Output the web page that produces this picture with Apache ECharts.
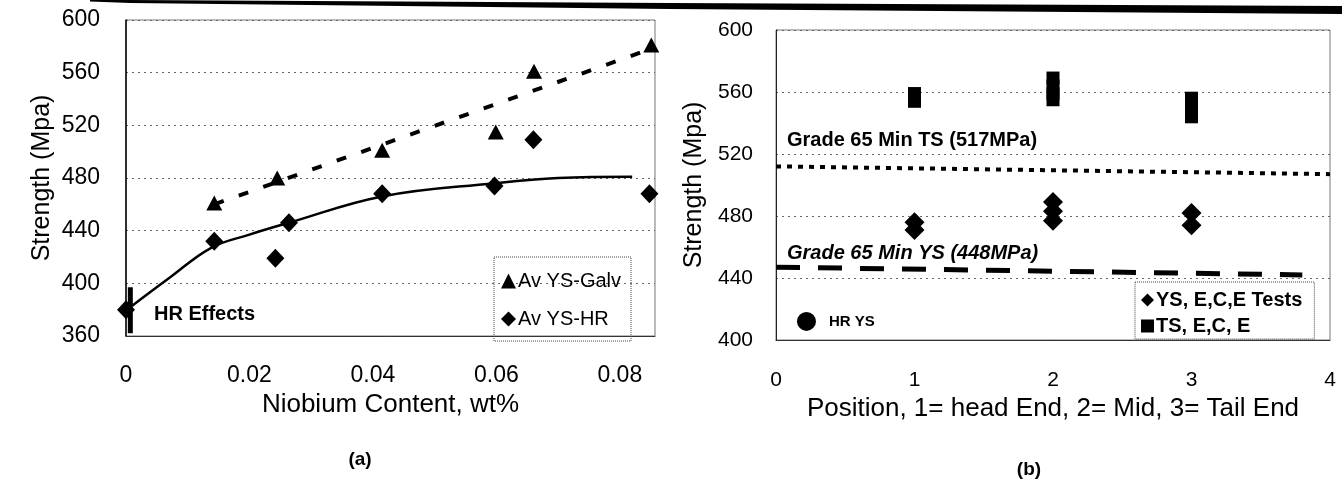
<!DOCTYPE html>
<html>
<head>
<meta charset="utf-8">
<script src="https://cdn.jsdelivr.net/npm/echarts@6/dist/echarts.min.js"></script>
<style>
html,body{margin:0;padding:0;background:#fff;}
#chart{width:1342px;height:486px;}
</style>
</head>
<body>
<div id="chart"></div>
<script>
// ---- Panel (a) data ----
const nbGalv = [0.0143, 0.0245, 0.0415, 0.0599, 0.0661, 0.0851];
const ysGalv = [461, 480, 501, 515, 561, 581];
const nbHR = [0, 0.0143, 0.0242, 0.0264, 0.0415, 0.0597, 0.066, 0.0848];
const ysHR = [380, 432, 419, 446, 468, 474, 509, 468];
const galvTrendX = [0.0143, 0.085];
const galvTrendY = [460, 578];
const hrTrendX = [0.001, 0.007, 0.0138, 0.02, 0.0264, 0.0415, 0.0597, 0.07, 0.082];
const hrTrendY = [383, 404, 427, 437, 446, 466, 476, 480, 481];
const hrBarX = [0.0007, 0.0007];
const hrBarY = [362, 397];

// ---- Panel (b) data ----
const posYS = [1, 1, 2, 2, 2, 3, 3];
const valYS = [471, 476, 477, 483, 489, 474, 482];
const posTS = [1, 1, 1, 2, 2, 2, 2, 3, 3, 3, 3];
const valTS = [554, 557, 559, 555, 559, 564, 569, 544, 548, 552, 556];
const tsMinX = [0, 4];
const tsMinY = [512, 507];
const ysMinX = [0, 3.8];
const ysMinY = [447, 442];
const hrYSX = [0.22];
const hrYSY = [412];

const zip = (a, b) => a.map((v, i) => [v, b[i]]);
const FONT = '"Liberation Sans", Arial, sans-serif';

const chart = echarts.init(document.getElementById('chart'), null, {renderer: 'canvas'});

const gridLine = {show: true, lineStyle: {color: '#666', width: 1, type: [2, 4]}};
const black = {color: '#000', opacity: 1};

const option = {
  backgroundColor: '#fff',
  animation: false,
  textStyle: {fontFamily: FONT, color: '#000'},
  grid: [
    {left: 126, top: 20, width: 529, height: 316, show: true, borderColor: '#777', borderWidth: 1, backgroundColor: 'transparent'},
    {left: 776, top: 30, width: 554, height: 310, show: true, borderColor: '#777', borderWidth: 1, backgroundColor: 'transparent'}
  ],
  xAxis: [
    {
      gridIndex: 0, type: 'value', min: 0, max: 0.0857, interval: 0.02,
      name: 'Niobium Content, wt%', nameLocation: 'middle', nameGap: 49,
      nameTextStyle: {fontSize: 26, color: '#000', fontFamily: FONT},
      axisLine: {show: true, lineStyle: {color: '#333', width: 1}},
      axisTick: {show: false},
      axisLabel: {fontSize: 23, color: '#000', margin: 28, showMaxLabel: false, fontFamily: FONT,
        formatter: v => (v === 0 ? '0' : String(Math.round(v * 100) / 100))},
      splitLine: {show: false}
    },
    {
      gridIndex: 1, type: 'value', min: 0, max: 4, interval: 1,
      name: 'Position, 1= head End, 2= Mid, 3= Tail End', nameLocation: 'middle', nameGap: 54,
      nameTextStyle: {fontSize: 26, color: '#000', fontFamily: FONT},
      axisLine: {show: true, lineStyle: {color: '#333', width: 1}},
      axisTick: {show: false},
      axisLabel: {fontSize: 21, color: '#000', margin: 30, fontFamily: FONT},
      splitLine: {show: false}
    }
  ],
  yAxis: [
    {
      gridIndex: 0, type: 'value', min: 360, max: 600, interval: 40,
      name: 'Strength (Mpa)', nameLocation: 'middle', nameGap: 71, nameRotate: 90,
      nameTextStyle: {fontSize: 25, color: '#000', fontFamily: FONT},
      axisLine: {show: true, lineStyle: {color: '#000', width: 1.5}},
      axisTick: {show: false},
      axisLabel: {fontSize: 23, color: '#000', margin: 26, fontFamily: FONT},
      splitLine: gridLine
    },
    {
      gridIndex: 1, type: 'value', min: 400, max: 600, interval: 40,
      name: 'Strength (Mpa)', nameLocation: 'middle', nameGap: 69, nameRotate: 90,
      nameTextStyle: {fontSize: 25, color: '#000', fontFamily: FONT},
      axisLine: {show: true, lineStyle: {color: '#222', width: 1}},
      axisTick: {show: false},
      axisLabel: {fontSize: 21, color: '#000', margin: 23, fontFamily: FONT},
      splitLine: gridLine
    }
  ],
  legend: [
    {
      data: [{name: 'Av YS-Galv', icon: 'triangle'}, {name: 'Av YS-HR', icon: 'diamond'}],
      orient: 'vertical', left: 494, top: 257,
      padding: [14, 10, 12, 7], itemGap: 18, itemWidth: 15, itemHeight: 15,
      borderType: 'dotted', borderColor: '#444', borderWidth: 1,
      itemStyle: {color: '#000', opacity: 1},
      textStyle: {fontSize: 20, color: '#000', fontFamily: FONT, padding: [0, 0, 0, -3]},
      selectedMode: false
    },
    {
      data: [{name: 'YS, E,C,E Tests', icon: 'diamond'}, {name: 'TS, E,C, E', icon: 'rect'}],
      orient: 'vertical', left: 1135, top: 282,
      padding: [8, 12, 3, 6], itemGap: 6, itemWidth: 13, itemHeight: 13,
      borderType: 'dotted', borderColor: '#444', borderWidth: 1,
      itemStyle: {color: '#000', opacity: 1},
      textStyle: {fontSize: 20, fontWeight: 'bold', color: '#000', fontFamily: FONT, padding: [0, 0, 0, -3]},
      selectedMode: false
    }
  ],
  series: [
    // panel (a)
    {
      name: 'Galv trend', type: 'line', xAxisIndex: 0, yAxisIndex: 0,
      data: zip(galvTrendX, galvTrendY), symbol: 'none',
      lineStyle: {color: '#000', width: 4, type: [10, 16]}, z: 2
    },
    {
      name: 'HR trend', type: 'line', xAxisIndex: 0, yAxisIndex: 0, smooth: 0.4,
      data: zip(hrTrendX, hrTrendY), symbol: 'none',
      lineStyle: {color: '#000', width: 2.5}, z: 2
    },
    {
      name: 'HR Effects', type: 'line', xAxisIndex: 0, yAxisIndex: 0,
      data: zip(hrBarX, hrBarY), symbol: 'none',
      lineStyle: {color: '#000', width: 5}, z: 3
    },
    {
      name: 'Av YS-Galv', type: 'scatter', xAxisIndex: 0, yAxisIndex: 0,
      data: zip(nbGalv, ysGalv), symbol: 'triangle', symbolSize: [16, 15],
      itemStyle: black, z: 5
    },
    {
      name: 'Av YS-HR', type: 'scatter', xAxisIndex: 0, yAxisIndex: 0,
      data: zip(nbHR, ysHR), symbol: 'diamond', symbolSize: [18, 19],
      itemStyle: black, z: 5
    },
    // panel (b)
    {
      name: 'Grade 65 Min TS', type: 'line', xAxisIndex: 1, yAxisIndex: 1,
      data: zip(tsMinX, tsMinY), symbol: 'none',
      lineStyle: {color: '#000', width: 4, type: [5, 6]}, z: 2
    },
    {
      name: 'Grade 65 Min YS', type: 'line', xAxisIndex: 1, yAxisIndex: 1,
      data: zip(ysMinX, ysMinY), symbol: 'none',
      lineStyle: {color: '#000', width: 5, type: [24, 18]}, z: 2
    },
    {
      name: 'YS, E,C,E Tests', type: 'scatter', xAxisIndex: 1, yAxisIndex: 1,
      data: zip(posYS, valYS), symbol: 'diamond', symbolSize: [20, 20],
      itemStyle: black, z: 5
    },
    {
      name: 'TS, E,C, E', type: 'scatter', xAxisIndex: 1, yAxisIndex: 1,
      data: zip(posTS, valTS), symbol: 'rect', symbolSize: [13, 13],
      itemStyle: black, z: 5
    },
    {
      name: 'HR YS', type: 'scatter', xAxisIndex: 1, yAxisIndex: 1,
      data: zip(hrYSX, hrYSY), symbol: 'circle', symbolSize: 19,
      itemStyle: black, z: 5,
      label: {show: true, position: 'right', distance: 13, formatter: 'HR YS',
        fontSize: 15, fontWeight: 'bold', color: '#000', fontFamily: FONT}
    }
  ],
  graphic: [
    {type: 'polygon', z: 100, silent: true,
      shape: {points: [[90, 0], [130, 0], [670, 3], [1342, 6], [1342, 14], [670, 9], [130, 3], [90, 1.5]]},
      style: {fill: '#000'}},
    {type: 'text', x: 154, y: 314, z: 100,
      style: {text: 'HR Effects', font: 'bold 20px ' + FONT, fill: '#000', verticalAlign: 'middle'}},
    {type: 'text', x: 787, y: 140, z: 100,
      style: {text: 'Grade 65 Min TS (517MPa)', font: 'bold 20px ' + FONT, fill: '#000', verticalAlign: 'middle'}},
    {type: 'text', x: 787, y: 253, z: 100,
      style: {text: 'Grade 65 Min YS (448MPa)', font: 'italic bold 20px ' + FONT, fill: '#000', verticalAlign: 'middle'}},
    {type: 'text', x: 360, y: 460, z: 100,
      style: {text: '(a)', font: 'bold 19px ' + FONT, fill: '#000', align: 'center', verticalAlign: 'middle'}},
    {type: 'text', x: 1029, y: 470, z: 100,
      style: {text: '(b)', font: 'bold 19px ' + FONT, fill: '#000', align: 'center', verticalAlign: 'middle'}}
  ]
};
chart.setOption(option);
</script>
</body>
</html>
